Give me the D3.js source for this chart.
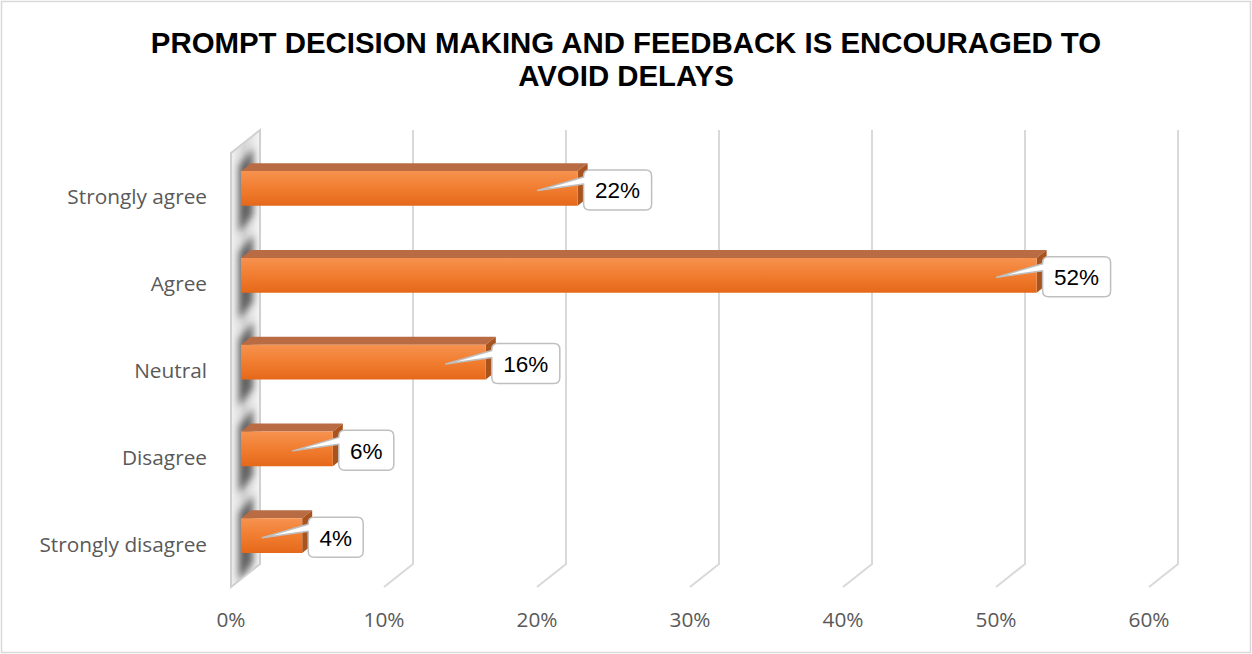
<!DOCTYPE html>
<html>
<head>
<meta charset="utf-8">
<script src="https://cdn.jsdelivr.net/npm/d3@7"></script>
<style>
  html, body { margin: 0; padding: 0; background: #fff; }
  svg { display: block; }
</style>
</head>
<body>
<svg id="chart" width="1252" height="654"></svg>
<script>
// Survey responses: share of respondents per answer (percent)
const categories = ["Strongly agree", "Agree", "Neutral", "Disagree", "Strongly disagree"];
const values = [22, 52, 16, 6, 4];
const tickValues = [0, 10, 20, 30, 40, 50, 60];
const titleLines = ["PROMPT DECISION MAKING AND FEEDBACK IS ENCOURAGED TO", "AVOID DELAYS"];

const W = 1252, H = 654;
const svg = d3.select("#chart");

// Back plane of the 3D plot area
const x = d3.scaleLinear().domain([0, 60]).range([260, 1178]);
const y = d3.scaleBand().domain(categories).range([130, 564]).paddingInner(0.6).paddingOuter(0.3);

// Oblique depth: z = 0 back plane, z = 1 front plane
const DX = -29, DY = 23;
const P = (v, yy, z) => [x(v) + DX * z, yy + DY * z];
const zFront = 0.655, zBack = 0.31;
const poly = pts => "M" + pts.map(p => p.join(",")).join("L") + "Z";

const defs = svg.append("defs");

// Outer chart border
svg.append("rect")
  .attr("x", 1.5).attr("y", 1.5).attr("width", W - 3).attr("height", H - 3)
  .attr("fill", "#fff").attr("stroke", "#D9D9D9").attr("stroke-width", 1.5);

// Title
svg.append("text")
  .attr("x", 626).attr("y", 53)
  .attr("text-anchor", "middle")
  .attr("font-family", "'Liberation Sans', Arial, sans-serif")
  .attr("font-weight", "bold").attr("font-size", 29.4).attr("fill", "#000")
  .selectAll("tspan").data(titleLines).join("tspan")
  .attr("x", 626).attr("dy", (d, i) => i === 0 ? 0 : 33)
  .text(d => d);

// Gridlines: vertical on the back wall, then slanting across the floor
const yTop = 130, yFloor = 564;
svg.append("g").selectAll("path")
  .data(tickValues.filter(v => v > 0)).join("path")
  .attr("d", v => `M${x(v)},${yTop}L${x(v)},${yFloor}L${x(v) + DX},${yFloor + DY}`)
  .attr("fill", "none").attr("stroke", "#D9D9D9").attr("stroke-width", 2);

// Side wall at 0%
const wallPts = [P(0, yTop, 0), P(0, yFloor, 0), P(0, yFloor, 1), P(0, yTop, 1)];
const wallClip = defs.append("clipPath").attr("id", "wallClip");
wallClip.append("path").attr("d", poly(wallPts));

const wallGrad = defs.append("linearGradient").attr("id", "wallGrad")
  .attr("x1", 0).attr("x2", 1).attr("y1", 0).attr("y2", 0);
wallGrad.append("stop").attr("offset", 0).attr("stop-color", "#F2F2F2");
wallGrad.append("stop").attr("offset", 0.45).attr("stop-color", "#D6D6D6");
wallGrad.append("stop").attr("offset", 1).attr("stop-color", "#F5F5F5");

defs.append("filter").attr("id", "soft").attr("x", "-50%").attr("y", "-50%").attr("width", "200%").attr("height", "200%")
  .append("feGaussianBlur").attr("stdDeviation", 3.5);

const wall = svg.append("g");
wall.append("path").attr("d", poly(wallPts)).attr("fill", "url(#wallGrad)");
const wallShade = wall.append("g").attr("clip-path", "url(#wallClip)");
// shadows cast by the bars onto the wall
wallShade.selectAll("path").data(categories).join("path")
  .attr("d", c => {
    const t = y(c) - 8, b = y(c) + y.bandwidth() + 24;
    return poly([[x(0) - 7, t], [x(0) - 21, t + 18], [x(0) - 21, b + 18], [x(0) - 7, b]]);
  })
  .attr("fill", "#444").attr("opacity", 0.8).attr("filter", "url(#soft)");
wall.append("path").attr("d", poly(wallPts)).attr("fill", "none").attr("stroke", "#D0D0D0").attr("stroke-width", 2);

// Bars
const faceGrad = defs.append("linearGradient").attr("id", "faceGrad")
  .attr("x1", 0).attr("x2", 0).attr("y1", 0).attr("y2", 1);
faceGrad.append("stop").attr("offset", 0).attr("stop-color", "#F6924F");
faceGrad.append("stop").attr("offset", 0.5).attr("stop-color", "#F17D30");
faceGrad.append("stop").attr("offset", 1).attr("stop-color", "#E5681A");

const data = categories.map((c, i) => ({ c, v: values[i] }));
const bars = svg.append("g").selectAll("g").data(data).join("g");
bars.each(function (d) {
  const g = d3.select(this);
  const t = y(d.c), b = y(d.c) + y.bandwidth();
  // top face
  g.append("path").attr("d", poly([P(0, t, zFront), P(d.v, t, zFront), P(d.v, t, zBack), P(0, t, zBack)]))
    .attr("fill", "#B96B43");
  // end face
  g.append("path").attr("d", poly([P(d.v, t, zFront), P(d.v, t, zBack), P(d.v, b, zBack), P(d.v, b, zFront)]))
    .attr("fill", "#A9541F");
  // front face
  g.append("path").attr("d", poly([P(0, t, zFront), P(d.v, t, zFront), P(d.v, b, zFront), P(0, b, zFront)]))
    .attr("fill", "url(#faceGrad)");
});

// Data-label callouts
const labelFont = "'Liberation Sans', Arial, sans-serif";
const callouts = svg.append("g");
data.forEach(d => {
  const [ex, fy] = P(d.v, y(d.c) + y.bandwidth() / 2, zFront);
  const label = d.v + "%";
  const w = label.length === 3 ? 68 : 55, h = 40, r = 6;
  const L = ex + 6, T = fy - 18.5, R = L + w, B = T + h;
  const tip = [ex - 40, fy + 2];
  const w1 = T + 7, w2 = T + 14;
  const path = `M${L + r},${T}L${R - r},${T}Q${R},${T} ${R},${T + r}L${R},${B - r}Q${R},${B} ${R - r},${B}` +
    `L${L + r},${B}Q${L},${B} ${L},${B - r}L${L},${w2}L${tip[0]},${tip[1]}L${L},${w1}L${L},${T + r}Q${L},${T} ${L + r},${T}Z`;
  callouts.append("path").attr("d", path)
    .attr("fill", "#fff").attr("stroke", "#BFBFBF").attr("stroke-width", 1.5).attr("stroke-linejoin", "round");
  callouts.append("text")
    .attr("x", L + w / 2).attr("y", T + h / 2 + 1)
    .attr("text-anchor", "middle").attr("dominant-baseline", "central")
    .attr("font-family", labelFont).attr("font-size", 22.5).attr("fill", "#000")
    .text(label);
});

// Category labels (front plane)
const axisFont = "'Open Sans', 'Liberation Sans', sans-serif";
svg.append("g").selectAll("text").data(categories).join("text")
  .attr("x", 207)
  .attr("y", c => y(c) + y.bandwidth() / 2 + DY)
  .attr("text-anchor", "end").attr("dominant-baseline", "central")
  .attr("font-family", axisFont).attr("font-size", 20.8).attr("fill", "#595959")
  .text(c => c);

// Value axis labels along the front edge of the floor
svg.append("g").selectAll("text").data(tickValues).join("text")
  .attr("x", v => x(v) + DX)
  .attr("y", 619)
  .attr("text-anchor", "middle").attr("dominant-baseline", "central")
  .attr("font-family", axisFont).attr("font-size", 20.8).attr("fill", "#595959")
  .text(v => v + "%");
</script>
</body>
</html>
